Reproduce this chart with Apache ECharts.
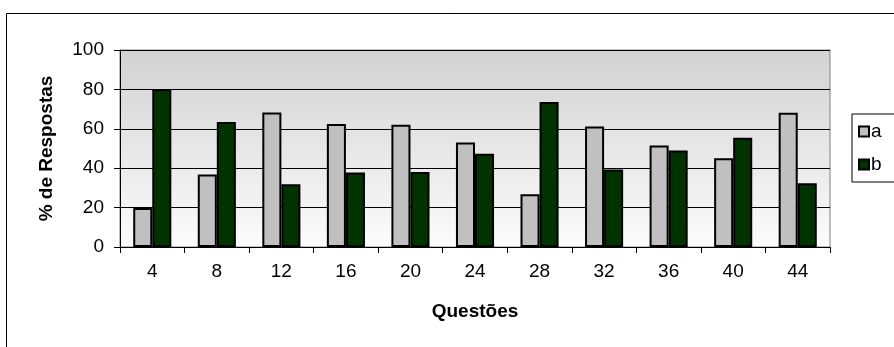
<!DOCTYPE html>
<html>
<head>
<meta charset="utf-8">
<script src="https://cdn.jsdelivr.net/npm/echarts@6/dist/echarts.min.js"></script>
<style>
html,body{margin:0;padding:0;background:#fff;}
#chart{width:894px;height:347px;}
</style>
</head>
<body>
<div id="chart"></div>
<script>
const categories = ['4','8','12','16','20','24','28','32','36','40','44'];
const seriesA = [19.8, 36.8, 68.3, 62.4, 62, 53.1, 26.8, 61.2, 51.5, 45.1, 68.1];
const seriesB = [80.2, 63.4, 31.9, 37.8, 38.1, 47.3, 73.6, 39.3, 49, 55.4, 32.4];
const seriesNames = ['a', 'b'];
const yTitle = '% de Respostas';
const xTitle = 'Questões';

const font = 'Arial, "Liberation Sans", sans-serif';
const fs = 19;
const chart = echarts.init(document.getElementById('chart'));
chart.setOption({
  animation: false,
  backgroundColor: '#fff',
  graphic: [{
    type: 'rect', left: 4, top: 11, shape: {width: 1000, height: 1000},
    style: {fill: 'none', stroke: '#000', lineWidth: 1}, silent: true, z: -10
  }],
  grid: {
    left: 120, top: 50, width: 710, height: 197,
    show: true,
    backgroundColor: new echarts.graphic.LinearGradient(0, 0, 0, 1, [
      {offset: 0, color: '#d2d2d2'}, {offset: 1, color: '#fcfcfc'}
    ]),
    borderColor: '#808080', borderWidth: 1
  },
  legend: {
    orient: 'vertical', left: 852, top: 114,
    padding: [8, 30, 8, 6], itemGap: 14, itemWidth: 10, itemHeight: 10,
    borderColor: '#000', borderWidth: 1, backgroundColor: '#fff',
    icon: 'rect',
    textStyle: {fontFamily: font, fontSize: fs, color: '#000', padding: [0,0,0,-3]},
    data: seriesNames
  },
  xAxis: {
    type: 'category', data: categories,
    axisLine: {lineStyle: {color: '#000', width: 1}},
    axisTick: {show: true, length: 6, lineStyle: {color: '#000'}},
    axisLabel: {fontFamily: font, fontSize: fs, color: '#000', margin: 15},
    name: xTitle, nameLocation: 'middle', nameGap: 55,
    nameTextStyle: {fontFamily: font, fontSize: fs, fontWeight: 'bold', color: '#000'}
  },
  yAxis: {
    type: 'value', min: 0, max: 100, interval: 20,
    axisLine: {show: true, lineStyle: {color: '#000'}},
    axisTick: {show: true, length: 6, lineStyle: {color: '#000'}},
    axisLabel: {fontFamily: font, fontSize: fs, color: '#000', margin: 16},
    splitLine: {show: true, lineStyle: {color: '#000', width: 1}},
    name: yTitle, nameLocation: 'middle', nameGap: 64, nameRotate: 90,
    nameTextStyle: {fontFamily: font, fontSize: fs, fontWeight: 'bold', color: '#000'}
  },
  series: [
    {name: seriesNames[0], type: 'bar', data: seriesA, barGap: '0%', barCategoryGap: '41%',
     itemStyle: {color: '#c0c0c0', borderColor: '#000', borderWidth: 2}},
    {name: seriesNames[1], type: 'bar', data: seriesB, barGap: '0%', barCategoryGap: '41%',
     itemStyle: {color: '#003300', borderColor: '#000', borderWidth: 2}}
  ]
});
</script>
</body>
</html>
